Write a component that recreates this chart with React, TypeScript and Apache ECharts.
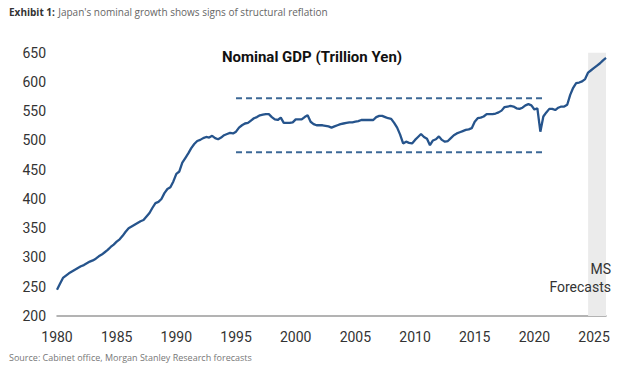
import React, { useEffect, useRef } from "react";
import * as echarts from "echarts";

const startYear = 1980;
const stepYears = 0.25;
// Quarterly nominal GDP (trillion yen)
const gdp: number[] = [
  245, 255, 265, 269,
  273, 276, 279, 282,
  285, 287, 290, 293,
  295, 298, 302, 305,
  309, 313, 318, 322,
  327, 331, 337, 344,
  350, 353, 356, 359,
  362, 364, 370, 376,
  385, 393, 395, 400,
  410, 417, 420, 430,
  443, 447, 462, 470,
  478, 487, 494, 499,
  501, 504, 506, 505,
  508, 504, 502, 505,
  509, 511, 513, 512,
  515, 522, 526, 529,
  530, 534, 538, 540,
  543, 544, 545, 545,
  540, 536, 535, 539,
  530, 530, 530, 531,
  536, 536, 536, 540,
  543, 532, 528, 526,
  526, 526, 525, 524,
  522, 524, 526, 528,
  529, 530, 531, 531,
  532, 533, 535, 535,
  535, 535, 535, 540,
  542, 542, 540, 538,
  537, 530, 522, 510,
  495, 498, 496, 495,
  501, 506, 511, 506,
  503, 492, 500, 502,
  507, 501, 498, 499,
  504, 509, 512, 514,
  516, 518, 519, 521,
  532, 538, 539, 541,
  545, 545, 545, 546,
  548, 551, 557, 558,
  559, 558, 555, 554,
  556, 560, 562, 560,
  553, 555, 515, 541,
  548, 554, 554, 552,
  556, 558, 558, 561,
  578, 590, 598, 599,
  601, 605, 616, 620,
  624, 628, 632, 637,
  641,
];

const rangeBands = [572, 480];
const rangeStart = 1995;
const rangeEnd = 2020.9;
const forecastStart = 2024.5;

const yTicks = { min: 200, max: 650, interval: 50 };
const xTicks = { min: 1980, interval: 5 };

export default function App() {
  const ref = useRef<HTMLDivElement>(null);
  useEffect(() => {
    if (!ref.current) return;
    const chart = echarts.init(ref.current, undefined, { renderer: "svg" });
    const points = gdp.map((v, i) => [startYear + i * stepYears, v]);
    const lastX = startYear + (gdp.length - 1) * stepYears;
    const font = "Roboto, sans-serif";
    chart.setOption({
      animation: false,
      backgroundColor: "#ffffff",
      grid: { left: 57, right: 26, top: 52.7, bottom: 58 },
      xAxis: {
        type: "value",
        min: xTicks.min,
        max: lastX,
        interval: xTicks.interval,
        axisLine: { show: true, lineStyle: { color: "#9a9a9a", width: 1.5 } },
        axisTick: { show: false },
        splitLine: { show: false },
        axisLabel: {
          color: "#333",
          fontFamily: font,
          fontSize: 14,
          margin: 14,
          showMaxLabel: false,
          formatter: (v: number) => (v % 5 === 0 ? String(v) : ""),
        },
      },
      yAxis: {
        type: "value",
        min: yTicks.min,
        max: yTicks.max,
        interval: yTicks.interval,
        axisLine: { show: false },
        axisTick: { show: false },
        splitLine: { show: false },
        axisLabel: { color: "#333", fontFamily: font, fontSize: 14, margin: 11 },
      },
      series: [
        {
          type: "line",
          data: points,
          showSymbol: false,
          smooth: false,
          lineStyle: { color: "#26548c", width: 2.3 },
          markArea: {
            silent: true,
            itemStyle: { color: "#ebebeb" },
            data: [[{ xAxis: forecastStart }, { xAxis: lastX }]],
          },
          z: 3,
        },
        ...rangeBands.map((v) => ({
          type: "line",
          data: [
            [rangeStart, v],
            [rangeEnd, v],
          ],
          showSymbol: false,
          lineStyle: { color: "#3c6896", width: 2, type: [6, 4] },
          z: 2,
        })),
      ],
      graphic: [
        {
          type: "text",
          left: 9,
          top: 6,
          z: 100,
          style: {
            text: "{b|Exhibit 1:} {r|Japan's nominal growth shows signs of structural reflation}",
            rich: {
              b: { fontFamily: "'Open Sans', sans-serif", fontSize: 10, fontWeight: "bold", fill: "#333" },
              r: { fontFamily: "'Open Sans', sans-serif", fontSize: 10, fill: "#666" },
            },
          },
        },
        {
          type: "text",
          x: 312,
          y: 57,
          z: 100,
          style: {
            text: "Nominal GDP (Trillion Yen)",
            fontFamily: font,
            fontSize: 15,
            fontWeight: "bold",
            fill: "#111",
            align: "center",
            verticalAlign: "middle",
          },
        },
        {
          type: "text",
          x: 611,
          y: 269,
          z: 100,
          style: {
            text: "MS",
            fontFamily: font,
            fontSize: 14,
            fill: "#333",
            align: "right",
            verticalAlign: "middle",
          },
        },
        {
          type: "text",
          x: 611,
          y: 287,
          z: 100,
          style: {
            text: "Forecasts",
            fontFamily: font,
            fontSize: 14,
            fill: "#333",
            align: "right",
            verticalAlign: "middle",
          },
        },
        {
          type: "text",
          left: 9,
          top: 353,
          z: 100,
          style: {
            text: "Source: Cabinet office, Morgan Stanley Research forecasts",
            fontFamily: "'Open Sans', sans-serif",
            fontSize: 9,
            fill: "#777",
          },
        },
      ],
    });
    return () => chart.dispose();
  }, []);
  return (
    <div
      ref={ref}
      style={{ position: "absolute", left: 0, top: 0, width: 632, height: 374 }}
    />
  );
}
